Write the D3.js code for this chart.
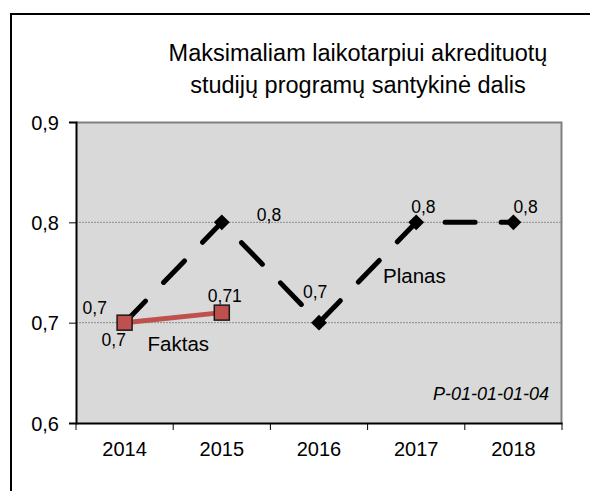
<!DOCTYPE html>
<html>
<head>
<meta charset="utf-8">
<script src="https://d3js.org/d3.v7.min.js"></script>
<style>
  body { margin: 0; background: #fff; }
  svg { font-family: Arial, "Liberation Sans", sans-serif; }
</style>
</head>
<body>
<div id="chart"></div>
<script>
// data
var years = ["2014", "2015", "2016", "2017", "2018"];
var planas = [0.7, 0.8, 0.7, 0.8, 0.8];
var faktas = [0.7, 0.71];
var yTicks = [0.6, 0.7, 0.8, 0.9];
var titleLines = ["Maksimaliam laikotarpiui akredituotų", "studijų programų santykinė dalis"];

var W = 590, H = 491;
var margin = { top: 122, right: 28, bottom: 68, left: 76 };
var width = W - margin.left - margin.right;
var height = H - margin.top - margin.bottom;

var fmt = function (v) { return String(v).replace(".", ","); };

var svg = d3.select("#chart").append("svg")
    .attr("width", W)
    .attr("height", H);

// outer frame (right/bottom fall outside the picture)
svg.append("rect")
    .attr("x", 11).attr("y", 14)
    .attr("width", 600).attr("height", 500)
    .attr("fill", "none")
    .attr("stroke", "#000")
    .attr("stroke-width", 2);

// title
svg.append("g").selectAll("text")
    .data(titleLines)
    .enter().append("text")
    .attr("x", 358)
    .attr("y", function (d, i) { return 61 + i * 32; })
    .attr("text-anchor", "middle")
    .attr("font-size", 23.5)
    .attr("fill", "#000")
    .text(function (d) { return d; });

var g = svg.append("g")
    .attr("transform", "translate(" + margin.left + "," + margin.top + ")");

var x = d3.scaleBand().domain(years).range([0, width]);
var y = d3.scaleLinear().domain([0.6, 0.9]).range([height, 0]);
var cx = function (i) { return x(years[i]) + x.bandwidth() / 2; };

// plot background
g.append("rect")
    .attr("width", width).attr("height", height)
    .attr("fill", "#d9d9d9");

// gridlines
g.selectAll(".grid")
    .data([0.7, 0.8])
    .enter().append("line")
    .attr("x1", 0).attr("x2", width)
    .attr("y1", function (d) { return y(d); })
    .attr("y2", function (d) { return y(d); })
    .attr("stroke", "#8c8c8c")
    .attr("stroke-width", 1)
    .attr("stroke-dasharray", "2,1");

// gray top + right border
g.append("path")
    .attr("d", "M0,0.5H" + (width - 0.5) + "V" + height)
    .attr("fill", "none")
    .attr("stroke", "#808080")
    .attr("stroke-width", 2);

// axes
var yAxis = g.append("g")
    .call(d3.axisLeft(y).tickValues(yTicks).tickSize(7).tickPadding(10).tickFormat(fmt));
var xAxis = g.append("g")
    .attr("transform", "translate(0," + height + ")")
    .call(d3.axisBottom(x).tickSize(0).tickPadding(19));

// x ticks at band edges
xAxis.selectAll(".edge")
    .data(d3.range(years.length + 1))
    .enter().append("line")
    .attr("x1", function (i) { return i * x.step(); })
    .attr("x2", function (i) { return i * x.step(); })
    .attr("y1", 0).attr("y2", 7)
    .attr("stroke", "#000");

[yAxis, xAxis].forEach(function (a) {
    a.select(".domain").attr("stroke", "#000").attr("stroke-width", 2);
    a.selectAll("text").attr("font-size", 20).attr("fill", "#000")
        .attr("font-family", "Arial, 'Liberation Sans', sans-serif");
});
yAxis.selectAll("text").attr("dy", "0.35em");

var line = d3.line()
    .x(function (d, i) { return cx(i); })
    .y(function (d) { return y(d); });

// Planas
g.append("path")
    .datum(planas)
    .attr("d", line)
    .attr("fill", "none")
    .attr("stroke", "#000")
    .attr("stroke-width", 5)
    .attr("stroke-linecap", "round")
    .attr("stroke-dasharray", "30,26");

g.selectAll(".diamond")
    .data(planas)
    .enter().append("path")
    .attr("d", d3.symbol().type(d3.symbolDiamond2).size(160))
    .attr("transform", function (d, i) { return "translate(" + cx(i) + "," + y(d) + ")"; })
    .attr("fill", "#000");

// Faktas
g.append("path")
    .datum(faktas)
    .attr("d", line)
    .attr("fill", "none")
    .attr("stroke", "#c0504d")
    .attr("stroke-width", 5);

g.selectAll(".square")
    .data(faktas)
    .enter().append("rect")
    .attr("x", function (d, i) { return cx(i) - 7.5; })
    .attr("y", function (d) { return y(d) - 7.5; })
    .attr("width", 15).attr("height", 15)
    .attr("fill", "#c0504d")
    .attr("stroke", "#1a1a1a")
    .attr("stroke-width", 1.5);

// value labels (offsets relative to the data point)
var planasOff = [[-42, -9], [35, -1], [-16, -25], [-5, -9], [0, -9]];
var faktasOff = [[-23, 23], [-14, -11]];

g.selectAll(".plab")
    .data(planas)
    .enter().append("text")
    .attr("x", function (d, i) { return cx(i) + planasOff[i][0]; })
    .attr("y", function (d, i) { return y(d) + planasOff[i][1]; })
    .attr("font-size", 17.5)
    .text(fmt);

g.selectAll(".flab")
    .data(faktas)
    .enter().append("text")
    .attr("x", function (d, i) { return cx(i) + faktasOff[i][0]; })
    .attr("y", function (d, i) { return y(d) + faktasOff[i][1]; })
    .attr("font-size", 17.5)
    .text(fmt);

// series names
g.append("text")
    .attr("x", cx(0) + 23).attr("y", y(0.7) + 28)
    .attr("font-size", 20.5)
    .text("Faktas");
g.append("text")
    .attr("x", cx(2) + 64).attr("y", y(0.75) + 10)
    .attr("font-size", 20.5)
    .text("Planas");

// code label
g.append("text")
    .attr("x", width - 13).attr("y", height - 23)
    .attr("text-anchor", "end")
    .attr("font-size", 18)
    .attr("font-style", "italic")
    .text("P-01-01-01-04");
</script>
</body>
</html>
